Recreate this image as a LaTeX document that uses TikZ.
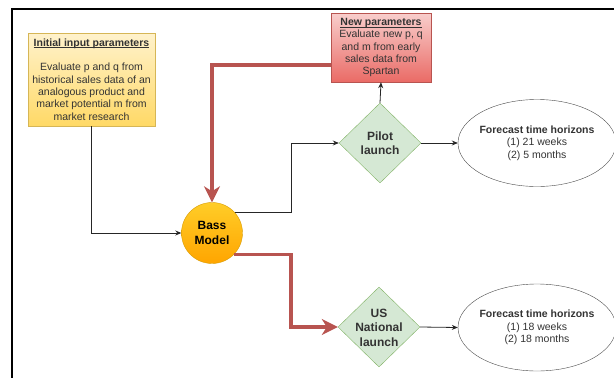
\documentclass[tikz,border=0pt]{standalone}
\usepackage{fontspec}
\setmainfont{Liberation Sans}
\newsavebox{\myulbox}
\newcommand{\myul}[1]{\sbox{\myulbox}{#1}\rlap{\usebox{\myulbox}}\rule[-1.7pt]{\wd\myulbox}{0.6pt}}
\usetikzlibrary{shapes.geometric,arrows.meta,calc}
\definecolor{txt}{HTML}{333333}
\definecolor{redline}{HTML}{B85450}
\definecolor{ylwTop}{HTML}{FFF2CC}
\definecolor{ylwBot}{HTML}{FFD966}
\definecolor{ylwBorder}{HTML}{D6B656}
\definecolor{redTop}{HTML}{F8CECC}
\definecolor{redBot}{HTML}{EA6B66}
\definecolor{grnFill}{HTML}{D5E8D4}
\definecolor{grnBorder}{HTML}{82B366}
\definecolor{orgTop}{HTML}{FFCD28}
\definecolor{orgBot}{HTML}{FFA500}
\definecolor{orgBorder}{HTML}{D79B00}
\begin{document}
\begin{tikzpicture}[x=1pt,y=-1pt,
  smalltext/.style={font=\fontsize{10.5}{12.3}\selectfont, text=txt, align=center},
  bigtext/.style={font=\fontsize{12}{14.5}\selectfont\bfseries, align=center},
  inbox/.style={rectangle, draw=ylwBorder, top color=ylwTop, bottom color=ylwBot, minimum width=127pt, minimum height=93pt, inner sep=0pt, smalltext},
  npbox/.style={rectangle, draw=redline, top color=redTop, bottom color=redBot, minimum width=100pt, minimum height=69pt, inner sep=0pt, smalltext},
  decision/.style={diamond, draw=grnBorder, fill=grnFill, minimum width=82pt, minimum height=80pt, inner sep=0pt},
  bassnode/.style={circle, draw=orgBorder, top color=orgTop, bottom color=orgBot, minimum size=61pt, inner sep=0pt, bigtext, text=black},
  horizon/.style={ellipse, draw=black!70, fill=white, minimum width=158pt, minimum height=87pt, inner sep=0pt},
  conn/.style={draw=black!85, line width=0.8pt, -{Stealth[length=6pt,width=5pt]}},
  redconn/.style={draw=redline, line width=3.5pt, -{Stealth[length=16pt,width=16pt,inset=5pt]}}
]
\useasboundingbox (0,0) rectangle (614,378);
\clip (0,0) rectangle (614,378);
\draw[line width=1.6pt, black] (12,9) rectangle (640,400);

\node[inbox] (init) at (91.5,79.5) {\myul{\textbf{Initial input parameters}}\\[12.3pt]Evaluate p and q from\\historical sales data of an\\analogous product and\\market potential m from\\market research};

\node[npbox] (np) at (381,47.5) {\myul{\textbf{New parameters}}\\Evaluate new p, q\\and m from early\\sales data from\\Spartan};

\node[bassnode] (bass) at (212,233) {Bass\\Model};

\node[decision] (pilot) at (380,143) {};
\node[bigtext, text=txt] (pilotT) at (380,143) {Pilot\\launch};

\node[decision] (us) at (379,327) {};
\node[bigtext, text=txt] (usT) at (379,327.5) {US\\National\\launch};

\node[horizon] (h1) at (537,143) {};
\node[smalltext] (h1T) at (537,143) {\textbf{Forecast time horizons}\\(1) 21 weeks\\(2) 5 months};

\node[horizon] (h2) at (537,327.5) {};
\node[smalltext] (h2T) at (537,327.5) {\textbf{Forecast time horizons}\\(1) 18 weeks\\(2) 18 months};

\coordinate (jx) at (291,0);

% thin connectors
\draw[conn] (init.south) |- (bass.west);
\draw[conn] (bass.42) -- (bass.42 -| jx) |- (pilot.west);
\draw[conn] (pilot.north) -- (np.south);
\draw[conn] (pilot.east) -- (h1.west);
\draw[conn] (us.east) -- (h2.west);

% red connectors
\coordinate (npw) at ($(np.south west)!0.25!(np.north west)$);
\draw[redconn] (npw) -| (bass.north);
\draw[redconn] (bass.-44) -- (bass.-44 -| jx) |- (us.west);
\end{tikzpicture}
\end{document}
